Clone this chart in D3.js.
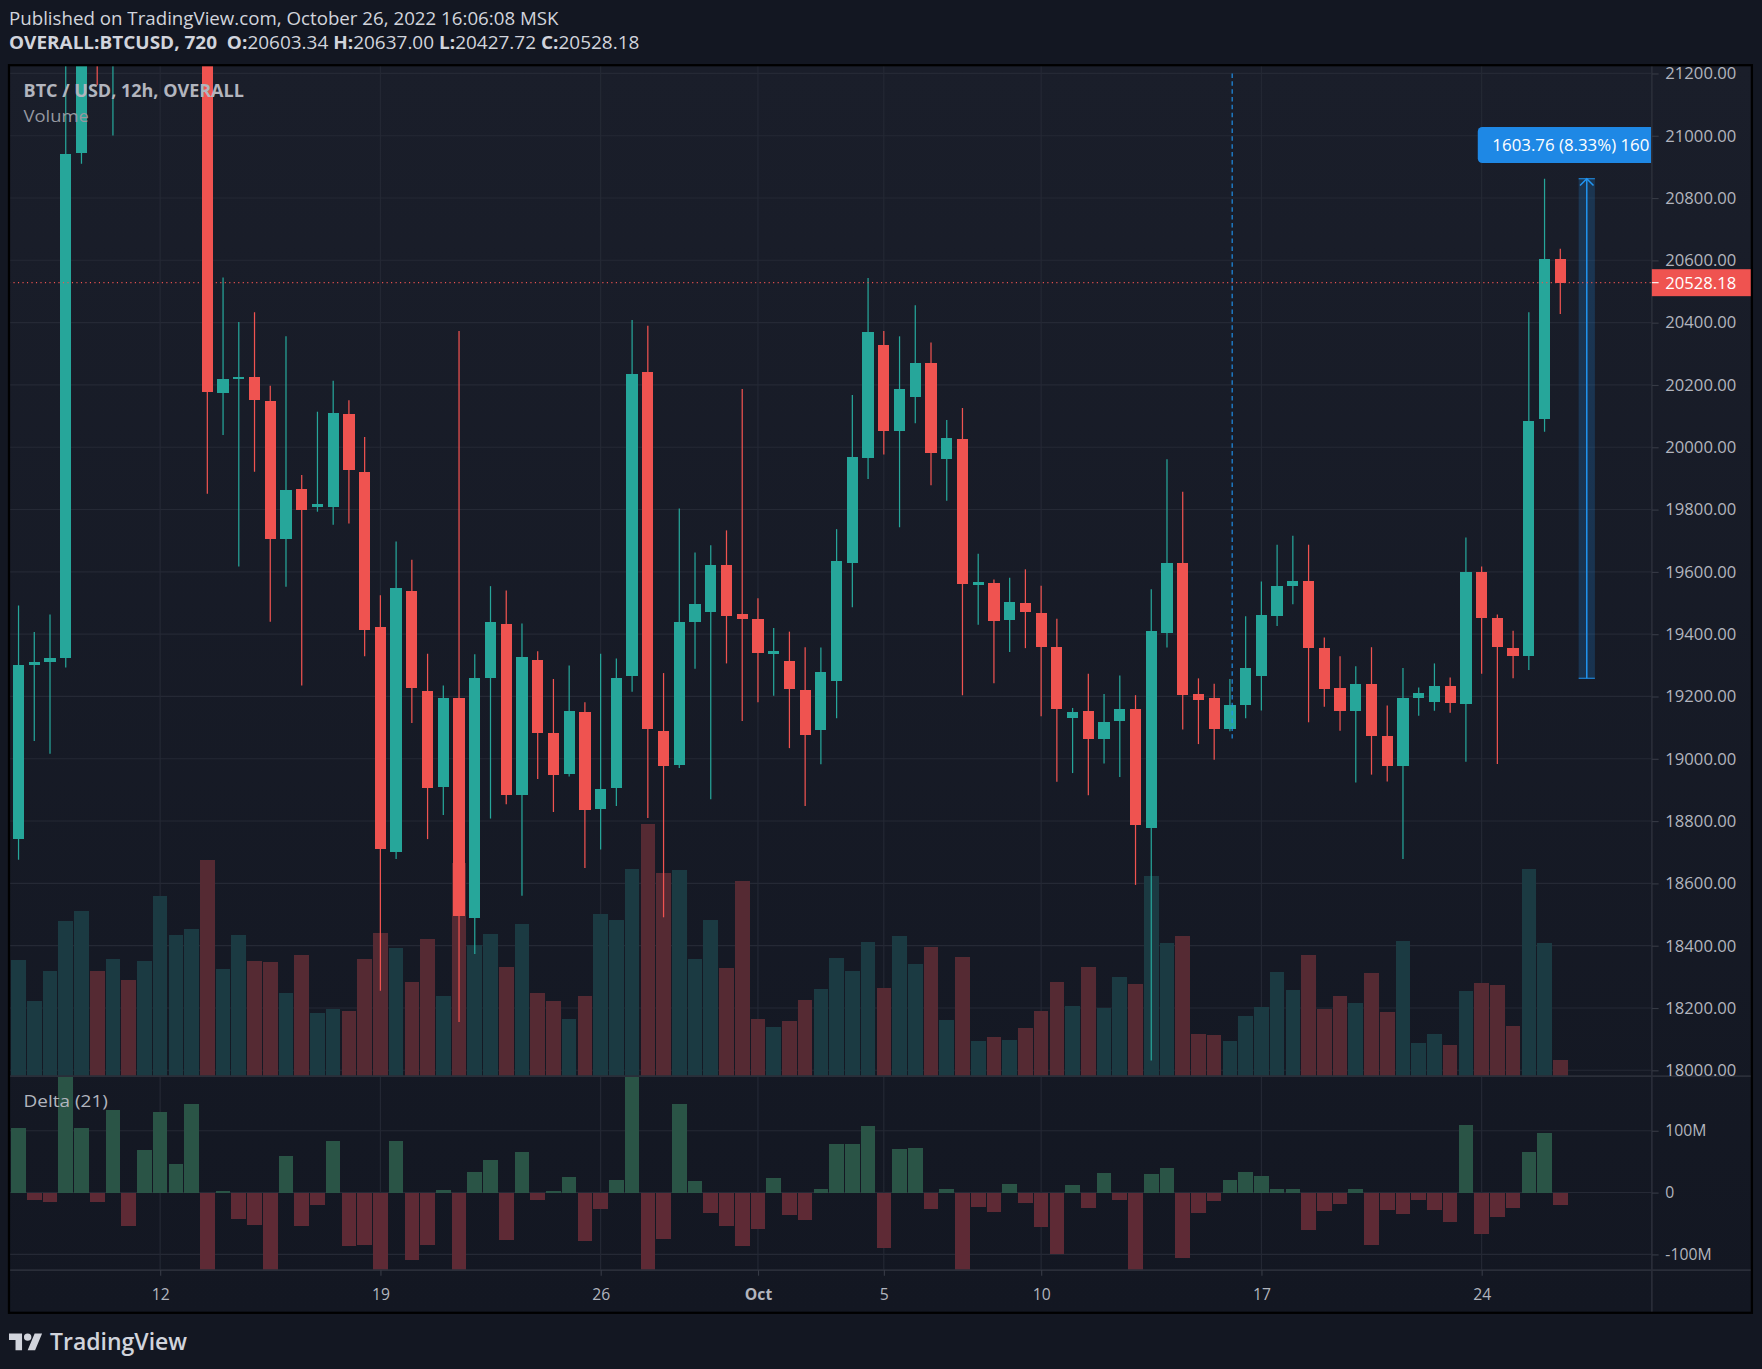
<!DOCTYPE html>
<html>
<head>
<meta charset="utf-8">
<script src="https://cdn.jsdelivr.net/npm/d3@7"></script>
<style>
  html, body { margin: 0; padding: 0; background: #131722; }
  svg { display: block; }
  text { font-family: "Open Sans", "Noto Sans", sans-serif; }
</style>
</head>
<body>
<script>
// 12h bars, OVERALL:BTCUSD, from Sep 7 12:00 to Oct 26 12:00
const opens = [18742,19302,19312,19324,20945,21380,21290,21640,21580,21770,21900,22150,22400,20174,20218,20226,20149,19706,19867,19808,
  19809,20108,19921,19422,18700,19538,19217,18908,19194,18489,19258,19434,18885,19316,19082,18951,19150,18838,18906,19266,
  20243,19090,18980,19440,19470,19621,19463,19450,19338,19314,19221,19092,19248,19627,19964,20327,20052,20160,20269,19963,
  20027,19560,19565,19445,19500,19467,19360,19130,19152,19063,19122,19161,18778,19405,19627,19208,19194,19094,19171,19264,
  19459,19555,19570,19357,19227,19153,19239,19073,18976,19194,19181,19235,19177,19598,19453,19357,19331,20091,20603.34];
const highs = [19492,19407,19463,21400,21450,21520,21800,21790,21900,22050,22300,22650,22480,20545,20402,20433,20197,20356,19911,20114,
  20213,20151,20033,19525,19697,19639,19337,19235,20373,19335,19554,19540,19434,19345,19256,19299,19181,19337,19322,20408,
  20390,19275,19803,19662,19685,19733,20187,19515,19420,19408,19358,19357,19737,20168,20543,20373,20356,20456,20336,20087,
  20126,19658,19575,19581,19608,19555,19449,19163,19273,19208,19267,19204,19544,19961,19857,19258,19241,19256,19457,19569,
  19687,19716,19687,19389,19329,19297,19358,19171,19291,19229,19306,19261,19710,19617,19463,19411,20433,20862,20637];
const lows = [18676,19057,19016,19293,20910,21163,21001,21420,21500,21650,21700,21980,19851,20039,19617,19921,19440,19552,19235,19793,
  19751,19755,19329,18255,18678,19115,18742,18819,18155,18373,18808,18854,18560,18935,18829,18943,18649,18709,18848,19215,
  18810,18491,18970,19289,18870,19306,19121,19181,19202,19034,18848,18982,19130,19486,19898,19977,19743,20077,19878,19828,
  19204,19430,19242,19343,19355,19136,18926,18954,18883,18985,18941,18595,18031,19357,19094,19047,18997,19088,19130,19155,
  19426,19496,19117,19167,19090,18924,18949,18927,18678,19138,19154,19148,18990,19273,18983,19258.24,19285,20050,20427.72];
const closes = [19302,19312,19322,20941,21380,21290,21640,21580,21770,21900,22150,22400,20176,20220,20226,20151,19704,19863,19799,19818,
  20110,19928,19414,18709,19548,19227,18906,19194,18495,19258,19438,18885,19326,19082,18949,19152,18835,18904,19258,20236,
  19097,18976,19440,19498,19621,19459,19448,19341,19345,19223,19076,19277,19634,19969,20369,20052,20187,20269,19983,20029,
  19561,19566,19443,19503,19470,19360,19161,19150,19063,19119,19161,18786,19409,19627,19206,19190,19094,19171,19291,19461,
  19555,19570,19355,19225,19153,19239,19072,18976,19194,19210,19235,19179,19598,19453,19360,19331,20085,20603.34,20528.18];
const volumes = [179,116,162,240,255,162,181,148,178,278,218,227,334,165,218,178,176,128,187,98,
  104,101,181,221,198,145,212,124,329,203,220,169,235,128,116,88,124,250,241,320,
  389,314,318,181,241,167,301,88,76,85,118,135,182,162,207,136,216,173,199,87,
  184,54,60,56,74,101,145,108,169,105,153,142,309,206,216,65,64,54,93,107,
  161,133,187,104,124,113,159,99,209,51,65,48,131,144,141,77,320,206,25];
// Delta (21), in millions
const deltas = [105,-12,-16,200,105,-16,134,-54,68,131,46,144,-160,2,-43,-53,-150,59,-54,-20,
  84,-87,-85,-140,84,-109,-85,4,-150,34,52,-77,65,-12,2,25,-78,-27,20,200,
  -160,-75,144,18,-33,-54,-86,-59,23,-37,-45,5,78,78,107,-90,70,72,-27,5,
  -150,-24,-32,13,-17,-56,-100,12,-25,31,-12,-150,30,39,-106,-33,-14,20,34,26,
  5,5,-61,-30,-19,5,-85,-28,-35,-12,-28,-48,110,-67,-40,-25,65,96,-20];

const firstBar = new Date(2022, 8, 7, 12);
const priceTicks = [18000,18200,18400,18600,18800,19000,19200,19400,19600,19800,20000,20200,20400,20600,20800,21000,21200];
const deltaTicks = [-100, 0, 100];
const timeTicks = [new Date(2022,8,12), new Date(2022,8,19), new Date(2022,8,26), new Date(2022,9,1),
  new Date(2022,9,5), new Date(2022,9,10), new Date(2022,9,17), new Date(2022,9,24)];
const timeLabels = ["12", "19", "26", "Oct", "5", "10", "17", "24"];
const lastPrice = 20528.18;
const measureLow = 19258.24, measureHigh = 20862.00;
const measureTimes = [new Date(2022,9,27,2), new Date(2022,9,27,14,24)];
const markerTime = new Date(2022, 9, 16, 0);
const markerPrices = [21200, 19065];

const W = 1568, H = 1218;
const left = 8, plotRight = 1470, chartRight = 1559;
const mainTop = 58, mainBottom = 957.5, deltaBottom = 1130, chartBottom = 1168;
const upColor = "#26a69a", downColor = "#ef5350";
const gridColor = "#252935", textColor = "#b2b5be";

const bars = opens.map((o, i) => ({
  date: d3.timeHour.offset(firstBar, 12 * i),
  open: o, high: highs[i], low: lows[i], close: closes[i],
  volume: volumes[i], delta: deltas[i],
  up: closes[i] >= o
}));

const x = d3.scaleTime().domain([bars[0].date, bars[bars.length - 1].date]).range([16.5, 1388.5]);
const y = d3.scaleLinear().domain([18000, 21200]).range([952.2, 65.3]);
const vScale = d3.scaleLinear().domain([0, d3.max(volumes)]).range([mainBottom, mainBottom - 224]);
const dScale = d3.scaleLinear().domain([-100, 100]).range([1116, 1006]);

const svg = d3.select("body").append("svg")
  .attr("width", 1762).attr("height", 1369)
  .attr("viewBox", `0 0 ${W} ${H}`)
  .attr("preserveAspectRatio", "none");

const defs = svg.append("defs");
const grad = defs.append("linearGradient").attr("id", "bg").attr("x1", 0).attr("y1", 0).attr("x2", 0).attr("y2", 1);
grad.append("stop").attr("offset", "0%").attr("stop-color", "#1a1e2a");
grad.append("stop").attr("offset", "100%").attr("stop-color", "#131722");
defs.append("clipPath").attr("id", "clipMain").append("rect")
  .attr("x", left).attr("y", mainTop).attr("width", plotRight - left).attr("height", mainBottom - mainTop);
defs.append("clipPath").attr("id", "clipDelta").append("rect")
  .attr("x", left).attr("y", mainBottom).attr("width", plotRight - left).attr("height", deltaBottom - mainBottom);

// page + chart background
svg.append("rect").attr("width", W).attr("height", H).attr("fill", "#131722");
svg.append("rect").attr("x", left).attr("y", mainTop)
  .attr("width", chartRight - left).attr("height", chartBottom - mainTop).attr("fill", "url(#bg)");

// header
svg.append("text").attr("x", 8).attr("y", 22)
  .attr("font-size", 15.5).attr("fill", "#d1d4dc")
  .attr("textLength", 489).attr("lengthAdjust", "spacingAndGlyphs")
  .text("Published on TradingView.com, October 26, 2022 16:06:08 MSK");
const hdr = svg.append("text").attr("x", 8).attr("y", 44)
  .attr("font-size", 15.5).attr("fill", "#d1d4dc")
  .attr("xml:space", "preserve")
  .attr("textLength", 561).attr("lengthAdjust", "spacingAndGlyphs");
hdr.append("tspan").attr("font-weight", 700).text("OVERALL:BTCUSD, 720  O:");
hdr.append("tspan").text(d3.format(".2f")(bars[98].open) + " ");
hdr.append("tspan").attr("font-weight", 700).text("H:");
hdr.append("tspan").text(d3.format(".2f")(bars[98].high) + " ");
hdr.append("tspan").attr("font-weight", 700).text("L:");
hdr.append("tspan").text(d3.format(".2f")(bars[98].low) + " ");
hdr.append("tspan").attr("font-weight", 700).text("C:");
hdr.append("tspan").text(d3.format(".2f")(bars[98].close));

// grid
const grid = svg.append("g").attr("stroke", gridColor).attr("stroke-width", 1);
grid.selectAll(".hg").data(priceTicks).join("line")
  .attr("x1", left).attr("x2", plotRight)
  .attr("y1", d => y(d)).attr("y2", d => y(d))
  .attr("clip-path", "url(#clipMain)");
grid.selectAll(".dg").data(deltaTicks).join("line")
  .attr("x1", left).attr("x2", plotRight)
  .attr("y1", d => dScale(d)).attr("y2", d => dScale(d));
grid.selectAll(".vg").data(timeTicks).join("line")
  .attr("x1", d => x(d)).attr("x2", d => x(d))
  .attr("y1", mainTop).attr("y2", deltaBottom);

// volume
svg.append("g").attr("clip-path", "url(#clipMain)")
  .selectAll("rect").data(bars).join("rect")
  .attr("x", d => x(d.date) - 6.5).attr("width", 13)
  .attr("y", d => vScale(d.volume)).attr("height", d => mainBottom - vScale(d.volume))
  .attr("fill", d => d.up ? "#1b3a42" : "#552a33")
  .attr("shape-rendering", "crispEdges");

// candles
const candle = svg.append("g").attr("clip-path", "url(#clipMain)")
  .selectAll("g").data(bars).join("g")
  .attr("fill", d => d.up ? upColor : downColor)
  .attr("stroke", d => d.up ? upColor : downColor);
candle.append("line")
  .attr("x1", d => x(d.date)).attr("x2", d => x(d.date))
  .attr("y1", d => y(d.high)).attr("y2", d => y(d.low))
  .attr("stroke-width", 1.1);
candle.append("rect")
  .attr("stroke", "none")
  .attr("x", d => x(d.date) - 5).attr("width", 10)
  .attr("y", d => y(Math.max(d.open, d.close)))
  .attr("height", d => Math.max(2, Math.abs(y(d.open) - y(d.close))))
  .attr("shape-rendering", "crispEdges");

// dashed marker line
svg.append("line")
  .attr("x1", x(markerTime) + 2).attr("x2", x(markerTime) + 2)
  .attr("y1", y(markerPrices[0])).attr("y2", y(markerPrices[1]))
  .attr("stroke", "#2196f3").attr("stroke-width", 1).attr("stroke-dasharray", "4,3");

// measure tool
const mx0 = x(measureTimes[0]), mx1 = x(measureTimes[1]), mxc = (mx0 + mx1) / 2;
const mt = y(measureHigh), mb = y(measureLow);
const meas = svg.append("g").attr("clip-path", "url(#clipMain)");
meas.append("rect").attr("x", mx0).attr("y", mt).attr("width", mx1 - mx0).attr("height", mb - mt)
  .attr("fill", "rgba(33,150,243,0.2)");
meas.selectAll(".mh").data([mt, mb]).join("line")
  .attr("x1", mx0).attr("x2", mx1).attr("y1", d => d).attr("y2", d => d)
  .attr("stroke", "#2196f3").attr("stroke-width", 1);
meas.append("line").attr("x1", mxc).attr("x2", mxc).attr("y1", mt).attr("y2", mb)
  .attr("stroke", "#2196f3").attr("stroke-width", 1.3);
meas.append("path").attr("d", `M${mxc - 6},${mt + 6} L${mxc},${mt} L${mxc + 6},${mt + 6}`)
  .attr("fill", "none").attr("stroke", "#2196f3").attr("stroke-width", 1.3);
const change = measureHigh - measureLow;
meas.append("rect").attr("x", mxc - 97).attr("y", mt - 46).attr("width", 194).attr("height", 32)
  .attr("rx", 4).attr("fill", "#1e88e5");
// only the part of the label that shows inside the plot area
const measLabel = `${d3.format(".2f")(change)} (${d3.format(".2f")(change / measureLow * 100)}%) ${Math.round(change * 100)}`;
meas.append("text").attr("x", mxc - 84).attr("y", mt - 30)
  .attr("dominant-baseline", "central")
  .attr("font-size", 15).attr("fill", "#ffffff")
  .text(measLabel.slice(0, 19));

// last price line
svg.append("line").attr("x1", left).attr("x2", plotRight)
  .attr("y1", y(lastPrice)).attr("y2", y(lastPrice))
  .attr("stroke", "#ef5350").attr("stroke-width", 1).attr("stroke-dasharray", "1,3");

// delta histogram
svg.append("g").attr("clip-path", "url(#clipDelta)")
  .selectAll("rect").data(bars).join("rect")
  .attr("x", d => x(d.date) - 6.5).attr("width", 13)
  .attr("y", d => dScale(Math.max(0, d.delta)))
  .attr("height", d => Math.max(1, Math.abs(dScale(d.delta) - dScale(0))))
  .attr("fill", d => d.delta >= 0 ? "#2a5446" : "#5e2a35")
  .attr("shape-rendering", "crispEdges");

// pane separators
svg.append("line").attr("x1", left).attr("x2", chartRight).attr("y1", mainBottom).attr("y2", mainBottom)
  .attr("stroke", "#2a2e39").attr("stroke-width", 1.5);
svg.append("line").attr("x1", left).attr("x2", chartRight).attr("y1", deltaBottom).attr("y2", deltaBottom)
  .attr("stroke", "#2a2e39").attr("stroke-width", 1.5);
svg.append("line").attr("x1", plotRight).attr("x2", plotRight).attr("y1", mainTop).attr("y2", chartBottom)
  .attr("stroke", "#2a2e39").attr("stroke-width", 1.5);

// legends
svg.append("text").attr("x", 21).attr("y", 86).attr("font-size", 15).attr("font-weight", 700)
  .attr("fill", textColor).attr("textLength", 196).attr("lengthAdjust", "spacingAndGlyphs")
  .text("BTC / USD, 12h, OVERALL");
svg.append("text").attr("x", 21).attr("y", 109).attr("font-size", 15)
  .attr("fill", "#9598a1").attr("textLength", 58).attr("lengthAdjust", "spacingAndGlyphs")
  .text("Volume");
svg.append("text").attr("x", 21).attr("y", 985).attr("font-size", 15)
  .attr("fill", textColor).attr("textLength", 75).attr("lengthAdjust", "spacingAndGlyphs")
  .text("Delta (21)");

// axes
function styleAxis(g) {
  g.select(".domain").remove();
  g.selectAll(".tick line").attr("stroke", "#363a45");
  g.selectAll(".tick text").attr("fill", textColor).attr("font-family", "'Open Sans','Noto Sans',sans-serif");
}
svg.append("g").attr("transform", `translate(${plotRight},0)`)
  .call(d3.axisRight(y).tickValues(priceTicks).tickFormat(d3.format(".2f")).tickSize(6).tickPadding(6))
  .call(styleAxis)
  .selectAll("text").attr("font-size", 14.8);
svg.append("g").attr("transform", `translate(${plotRight},0)`)
  .call(d3.axisRight(dScale).tickValues(deltaTicks).tickFormat(d => d === 0 ? "0" : d + "M").tickSize(6).tickPadding(6))
  .call(styleAxis)
  .selectAll("text").attr("font-size", 14);
svg.append("g").attr("transform", `translate(0,${deltaBottom})`)
  .call(d3.axisBottom(x).tickValues(timeTicks).tickFormat((d, i) => timeLabels[i]).tickSize(5).tickPadding(12))
  .call(styleAxis)
  .selectAll("text").attr("font-size", 14)
  .attr("font-weight", (d, i) => timeLabels[i] === "Oct" ? 700 : 400);

// last price label
svg.append("rect").attr("x", plotRight).attr("y", y(lastPrice) - 12).attr("width", chartRight - plotRight).attr("height", 24)
  .attr("fill", "#ef5350");
svg.append("line").attr("x1", plotRight).attr("x2", plotRight + 6).attr("y1", y(lastPrice)).attr("y2", y(lastPrice))
  .attr("stroke", "#ffffff");
svg.append("text").attr("x", plotRight + 12).attr("y", y(lastPrice)).attr("dominant-baseline", "central")
  .attr("font-size", 14.8).attr("fill", "#ffffff").text(d3.format(".2f")(lastPrice));

// chart border
svg.append("rect").attr("x", left).attr("y", mainTop)
  .attr("width", chartRight - left).attr("height", chartBottom - mainTop)
  .attr("fill", "none").attr("stroke", "#000000").attr("stroke-width", 2);

// TradingView logo
const logo = svg.append("g").attr("transform", "translate(8,1183) scale(0.83)").attr("fill", "#d1d4dc");
logo.append("path").attr("d", "M14 22H7V11H0V4h14v18zM28 22h-8l7.5-18h8L28 22z");
logo.append("circle").attr("cx", 20).attr("cy", 8).attr("r", 4);
svg.append("text").attr("x", 44.5).attr("y", 1201).attr("font-size", 20).attr("font-weight", 600)
  .attr("fill", "#d1d4dc").attr("textLength", 122).attr("lengthAdjust", "spacingAndGlyphs")
  .text("TradingView");
</script>
</body>
</html>
